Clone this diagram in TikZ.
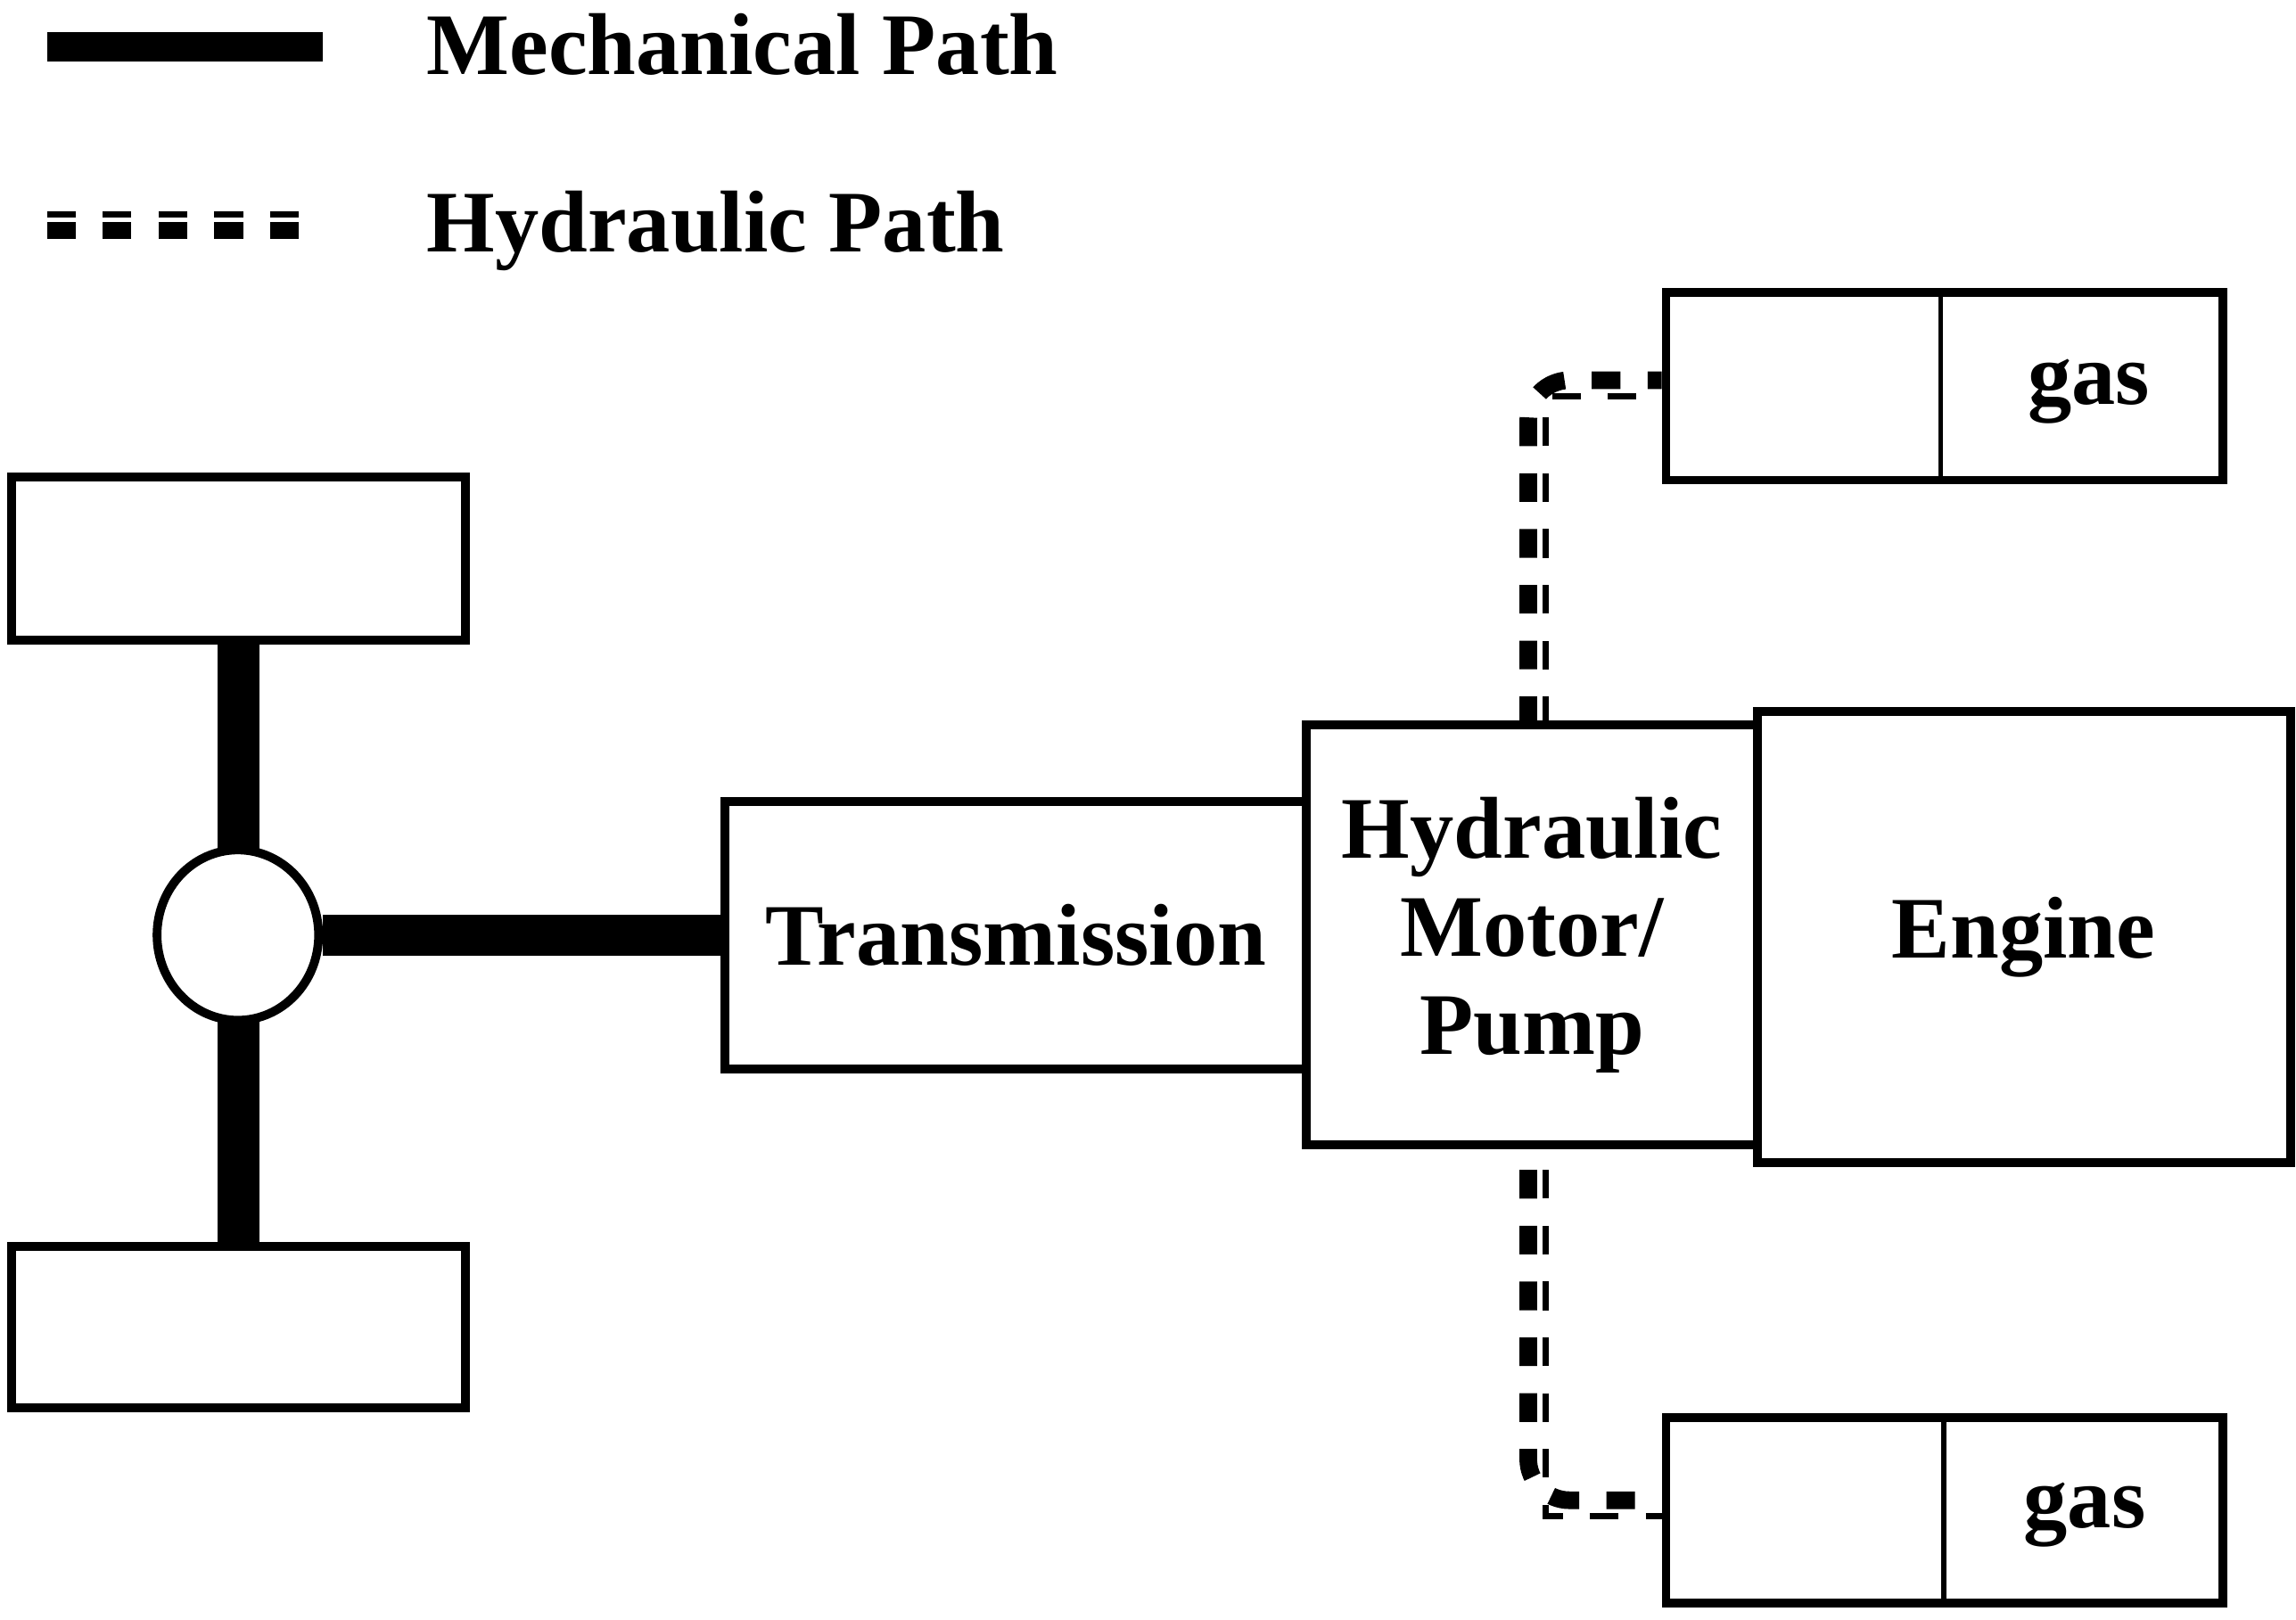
\documentclass[tikz,border=0pt]{standalone}
\usepackage{fontspec}
\setmainfont{Liberation Serif}
\usetikzlibrary{positioning,shapes.geometric}
\begin{document}
\begin{tikzpicture}[x=0.01cm,y=-0.01cm,
	block/.style={
	rectangle,draw,line width=1.7pt,inner sep=0pt,
	font=\fontsize{17}{19}\selectfont\bfseries,align=center
	},
	legendtext/.style={anchor=west,inner sep=0pt,font=\fontsize{17}{19}\selectfont\bfseries},
	mech/.style={line width=0.28cm},
	hydthick/.style={line width=0.12cm,dash pattern=on 0.195cm off 0.185cm},
	hydthin/.style={line width=0.04cm,dash pattern=on 0.195cm off 0.185cm}
]
\useasboundingbox (0,0) rectangle (1564,1103);

% legend
\draw[line width=0.2cm] (32,32) -- (220,32);
\node (mechtext) [legendtext] at (290,30) {Mechanical Path};
\draw[hydthin] (32,146) -- (205,146);
\draw[hydthick] (32,157) -- (205,157);
\node (hydtext) [legendtext] at (290,157) {Hydraulic Path};

% wheels and axle
\node (wheeltop) [block,minimum width=3.09cm,minimum height=1.11cm] at (162.5,380.5) {};
\node (wheelbot) [block,minimum width=3.09cm,minimum height=1.10cm] at (162.5,904) {};
\draw[mech] (wheeltop.south) -- (wheelbot.north);
\node (diff) [ellipse,draw,line width=1.7pt,fill=white,inner sep=0pt,minimum width=1.1cm,minimum height=1.16cm] at (162,637) {};

% drivetrain
\node (trans) [block,minimum width=3.96cm,minimum height=1.82cm] at (692,637) {Transmission};
\node (motor) [block,minimum width=3.07cm,minimum height=2.86cm] at (1043.5,637) {Hydraulic\\Motor/\\Pump};
\node (engine) [block,minimum width=3.63cm,minimum height=3.07cm] at (1378.5,638.5) {Engine};
\draw[mech] (diff.east) -- (trans.west);

% accumulators
\node (acctop) [block,minimum width=3.79cm,minimum height=1.28cm] at (1324.5,263) {};
\draw[line width=1pt] (1322,199) -- (1322,327);
\node (gastop) [block,draw=none] at (1423,267) {gas};
\node (accbot) [block,minimum width=3.79cm,minimum height=1.26cm] at (1324.5,1029) {};
\draw[line width=1pt] (1324,966) -- (1324,1092);
\node (gasbot) [block,draw=none] at (1420,1032) {gas};

% hydraulic lines
\draw[hydthick,rounded corners=8] (1041,494) -- (1041,259) -- (acctop.west |- 0,259);
\draw[hydthin] (1053,494) -- (1053,270) -- (acctop.west |- 0,270);
\draw[hydthick,rounded corners=8] (1041,797) -- (1041,1022) -- (accbot.west |- 0,1022);
\draw[hydthin] (1053,797) -- (1053,1033) -- (accbot.west |- 0,1033);
\end{tikzpicture}
\end{document}
